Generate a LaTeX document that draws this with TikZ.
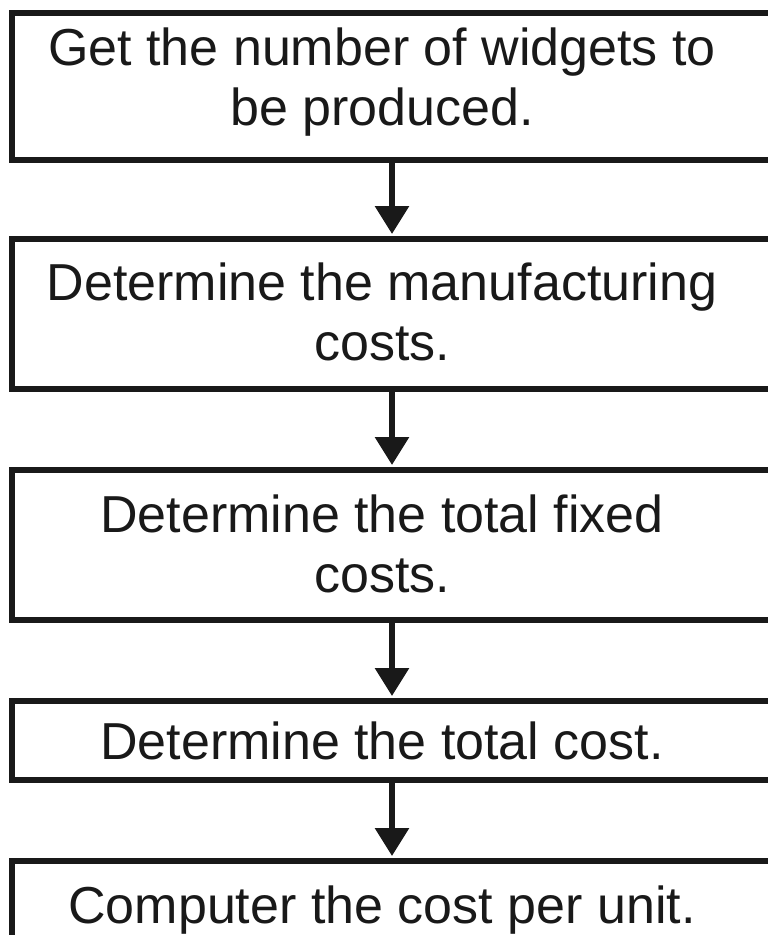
\documentclass[tikz,border=0pt]{standalone}
\usepackage{fontspec}
\setmainfont{Liberation Sans}
\usetikzlibrary{arrows.meta}
\begin{document}
\begin{tikzpicture}[x=1pt,y=-1pt,
  stepbox/.style={draw=black!90, line width=6pt, rectangle, inner sep=0pt,
    minimum width=788pt},
  steptext/.style={anchor=base, inner sep=0pt, text=black!90,
    font=\fontsize{52pt}{60pt}\selectfont},
  flow/.style={draw=black!90, line width=6pt,
    -{Triangle[width=33pt,length=28pt]}}]
  \useasboundingbox (0,0) rectangle (768,935);
  \clip (0,0) rectangle (768,935);
  % boxes
  \node[stepbox, minimum height=147.5pt] (b1) at (406,86.25) {};
  \node[stepbox, minimum height=150pt]   (b2) at (406,314) {};
  \node[stepbox, minimum height=150pt]   (b3) at (406,545) {};
  \node[stepbox, minimum height=79pt]    (b4) at (406,740.5) {};
  \node[stepbox, minimum height=139pt]   (b5) at (406,930.5) {};
  % labels
  \node[steptext] (t1a) at (382,65)  {Get the number of widgets to};
  \node[steptext] (t1b) at (382,125) {be produced.};
  \node[steptext] (t2a) at (382,300) {Determine the manufacturing};
  \node[steptext] (t2b) at (382,360) {costs.};
  \node[steptext] (t3a) at (382,532) {Determine the total fixed};
  \node[steptext] (t3b) at (382,592) {costs.};
  \node[steptext] (t4)  at (382,759) {Determine the total cost.};
  \node[steptext] (t5)  at (382,923) {Computer the cost per unit.};
  % connectors
  \coordinate (ax) at (392,0);
  \draw[flow] (b1.south -| ax) -- ([yshift=2pt]b2.north -| ax);
  \draw[flow] (b2.south -| ax) -- ([yshift=2pt]b3.north -| ax);
  \draw[flow] (b3.south -| ax) -- ([yshift=2pt]b4.north -| ax);
  \draw[flow] (b4.south -| ax) -- ([yshift=2pt]b5.north -| ax);
\end{tikzpicture}
\end{document}
